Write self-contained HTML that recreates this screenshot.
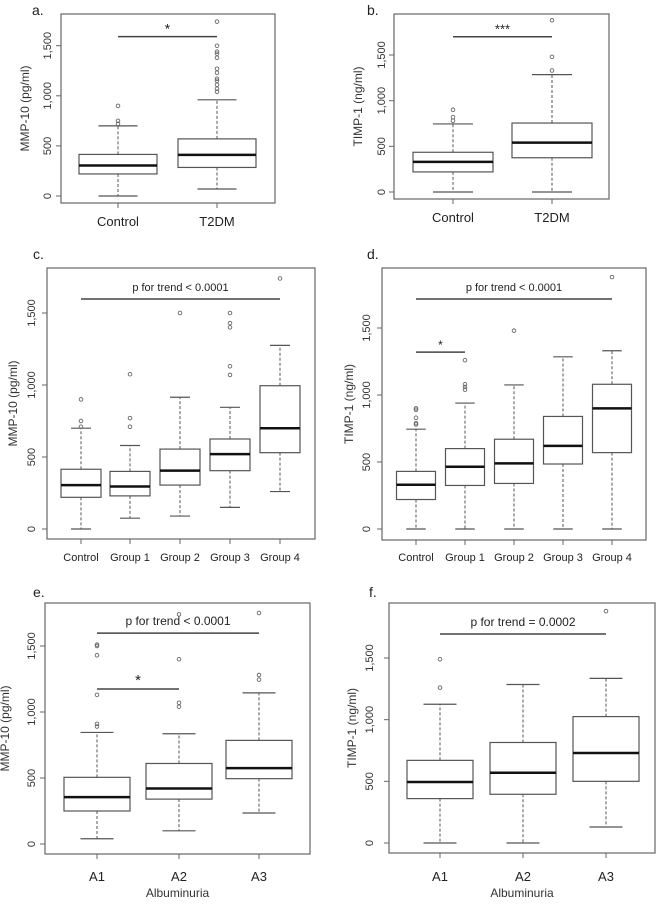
<!DOCTYPE html>
<html><head><meta charset="utf-8"><style>
html,body{margin:0;padding:0;background:#fff;}
svg{display:block;font-family:"Liberation Sans",sans-serif;}
</style></head><body>
<svg id="chart" width="658" height="906" viewBox="0 0 658 906"></svg>
<script>
// ---- data ----
const catsA = ["Control","T2DM"];
const loA=[0,70], q1A=[220,285], medA=[305,410], q3A=[415,570], hiA=[700,960];
const outA=[[720,750,900],[1040,1070,1110,1150,1170,1230,1270,1380,1420,1440,1500,1740]];
const catsB = ["Control","T2DM"];
const loB=[0,0], q1B=[220,375], medB=[330,540], q3B=[435,755], hiB=[745,1285];
const outB=[[780,820,900],[1330,1480,1880]];
const catsC = ["Control","Group 1","Group 2","Group 3","Group 4"];
const loC=[0,75,90,150,260], q1C=[220,230,305,405,530], medC=[305,295,405,520,700], q3C=[415,400,555,625,995], hiC=[700,580,915,845,1275];
const outC=[[710,750,900],[710,770,1075],[1500],[1070,1130,1400,1430,1500],[1740]];
const catsD = ["Control","Group 1","Group 2","Group 3","Group 4"];
const loD=[0,0,0,0,0], q1D=[220,325,340,485,570], medD=[330,465,490,620,900], q3D=[430,600,670,840,1080], hiD=[745,940,1075,1285,1330];
const outD=[[780,790,830,890,900],[1040,1060,1080,1260],[1480],[],[1880]];
const catsE = ["A1","A2","A3"];
const loE=[40,100,235], q1E=[250,340,495], medE=[355,420,575], q3E=[505,610,785], hiE=[845,835,1145];
const outE=[[890,910,1130,1430,1500,1510],[1040,1070,1400,1740],[1245,1280,1750]];
const catsF = ["A1","A2","A3"];
const loF=[0,0,130], q1F=[360,395,500], medF=[495,570,730], q3F=[670,815,1025], hiF=[1125,1285,1335];
const outF=[[1260,1490],[],[1880]];
const yTicks=[0,500,1000,1500];
const yTickLabels=["0","500","1,000","1,500"];

const svg=document.getElementById('chart');
const NS="http://www.w3.org/2000/svg";
function mk(tag,attrs,parent){const e=document.createElementNS(NS,tag);for(const k in attrs)e.setAttribute(k,attrs[k]);(parent||svg).appendChild(e);return e;}

function panel(p){
  const g=mk('g',{});
  
  
  const y=v=>p.y0-v*p.k;
  const x=i=>p.cx[i];
  const lab=mk('text',{x:p.lx,y:p.ly,'font-size':14,fill:'#222'},g);lab.textContent=p.id+'.';
  
  
  const fr=mk('rect',{x:p.L,y:p.T,width:p.R-p.L,height:p.B-p.T,fill:'none',stroke:'#666','stroke-width':1.2},g);
  
  
  yTicks.forEach((t,i)=>{
    mk('line',{x1:p.L-5,x2:p.L,y1:y(t),y2:y(t),stroke:'#666'},g);
    const tx=mk('text',{x:p.tlx,y:y(t),'font-size':11,fill:'#333','text-anchor':'middle',transform:`rotate(-90 ${p.tlx} ${y(t)})`},g);
    tx.textContent=yTickLabels[i];
    
    
  });
  const yt=mk('text',{x:p.ytx,y:(p.T+p.B)/2,'font-size':12,fill:'#333','text-anchor':'middle',transform:`rotate(-90 ${p.ytx} ${(p.T+p.B)/2})`},g);
  yt.textContent=p.ytitle;
  
  
  p.cats.forEach((c,i)=>{
    const cx=x(i), hw=p.hw;
    mk('line',{x1:cx,x2:cx,y1:p.B,y2:p.B+5,stroke:'#666'},g);
    const xl=mk('text',{x:cx,y:p.xly,'font-size':p.xfs,fill:'#222','text-anchor':'middle'},g);xl.textContent=c;
    
    
    const bg=mk('g',{},g);
    
    
    mk('line',{x1:cx,x2:cx,y1:y(p.q3[i]),y2:y(p.hi[i]),stroke:'#555','stroke-dasharray':'3,2'},bg);
    mk('line',{x1:cx,x2:cx,y1:y(p.q1[i]),y2:y(p.lo[i]),stroke:'#555','stroke-dasharray':'3,2'},bg);
    mk('line',{x1:cx-hw/2,x2:cx+hw/2,y1:y(p.hi[i]),y2:y(p.hi[i]),stroke:'#555','stroke-width':1.2},bg);
    mk('line',{x1:cx-hw/2,x2:cx+hw/2,y1:y(p.lo[i]),y2:y(p.lo[i]),stroke:'#555','stroke-width':1.2},bg);
    mk('rect',{x:cx-hw,y:y(p.q3[i]),width:2*hw,height:y(p.q1[i])-y(p.q3[i]),fill:'#fff',stroke:'#555','stroke-width':1.2},bg);
    mk('line',{x1:cx-hw,x2:cx+hw,y1:y(p.med[i]),y2:y(p.med[i]),stroke:'#111','stroke-width':2.5},bg);
    p.out[i].forEach(v=>{mk('circle',{cx:cx,cy:y(v),r:1.8,fill:'none',stroke:'#666','stroke-width':0.9},bg);});
  });
  (p.sig||[]).forEach(s=>{
    const sg=mk('g',{},g);
    
    
    mk('line',{x1:x(s.a),x2:x(s.b),y1:y(s.v),y2:y(s.v),stroke:'#444','stroke-width':1.5},sg);
    const t=mk('text',{x:(x(s.a)+x(s.b))/2,y:y(s.v)-s.dy,'font-size':s.fs,fill:'#222','text-anchor':'middle'},sg);t.textContent=s.text;
  });
  if(p.xtitle){const t=mk('text',{x:(p.L+p.R)/2,y:897,'font-size':12,fill:'#333','text-anchor':'middle'},g);t.textContent=p.xtitle;
    
    }
}

panel({id:'a',cats:catsA,lo:loA,q1:q1A,med:medA,q3:q3A,hi:hiA,out:outA,L:61,R:275,T:14,B:203,y0:196,k:150.3/1500,
  cx:[118,217],hw:39,lx:32,ly:15,tlx:51,ytx:29,ytitle:'MMP-10 (pg/ml)',xly:226,xfs:13,
  sig:[{a:0,b:1,v:1590,text:'*',dy:3,fs:14}]});
panel({id:'b',cats:catsB,lo:loB,q1:q1B,med:medB,q3:q3B,hi:hiB,out:outB,L:394,R:609,T:14,B:199,y0:192,k:137/1500,
  cx:[453,552],hw:40,lx:367,ly:15,tlx:385,ytx:362,ytitle:'TIMP-1 (ng/ml)',xly:222,xfs:13,
  sig:[{a:0,b:1,v:1700,text:'***',dy:3,fs:13}]});
panel({id:'c',cats:catsC,lo:loC,q1:q1C,med:medC,q3:q3C,hi:hiC,out:outC,L:47,R:315,T:268,B:539,y0:529,k:216/1500,
  cx:[81,130,180,230,280],hw:20,lx:33,ly:259,tlx:35,ytx:17,ytitle:'MMP-10 (pg/ml)',xly:561,xfs:11,
  sig:[{a:0,b:4,v:1597,text:'p for trend < 0.0001',dy:8,fs:11}]});
panel({id:'d',cats:catsD,lo:loD,q1:q1D,med:medD,q3:q3D,hi:hiD,out:outD,L:382,R:646,T:268,B:540,y0:529,k:201/1500,
  cx:[416,465,514,563,612],hw:19.5,lx:367,ly:259,tlx:370,ytx:353,ytitle:'TIMP-1 (ng/ml)',xly:561,xfs:11,
  sig:[{a:0,b:4,v:1716,text:'p for trend < 0.0001',dy:8,fs:11},{a:0,b:1,v:1320,text:'*',dy:3,fs:12}]});
panel({id:'e',cats:catsE,lo:loE,q1:q1E,med:medE,q3:q3E,hi:hiE,out:outE,L:45,R:310,T:603,B:854,y0:844,k:198/1500,
  cx:[97,179,259],hw:33,lx:33,ly:597,tlx:35,ytx:9,ytitle:'MMP-10 (pg/ml)',xly:881,xfs:13,xtitle:'Albuminuria',
  sig:[{a:0,b:2,v:1598,text:'p for trend < 0.0001',dy:8,fs:12},{a:0,b:1,v:1174,text:'*',dy:4,fs:15}]});
panel({id:'f',cats:catsF,lo:loF,q1:q1F,med:medF,q3:q3F,hi:hiF,out:outF,L:389,R:655,T:603,B:853,y0:843,k:185/1500,
  cx:[440,523,606],hw:33,lx:369,ly:597,tlx:373,ytx:356,ytitle:'TIMP-1 (ng/ml)',xly:881,xfs:13,xtitle:'Albuminuria',
  sig:[{a:0,b:2,v:1695,text:'p for trend = 0.0002',dy:8,fs:12}]});
</script>
</body></html>
